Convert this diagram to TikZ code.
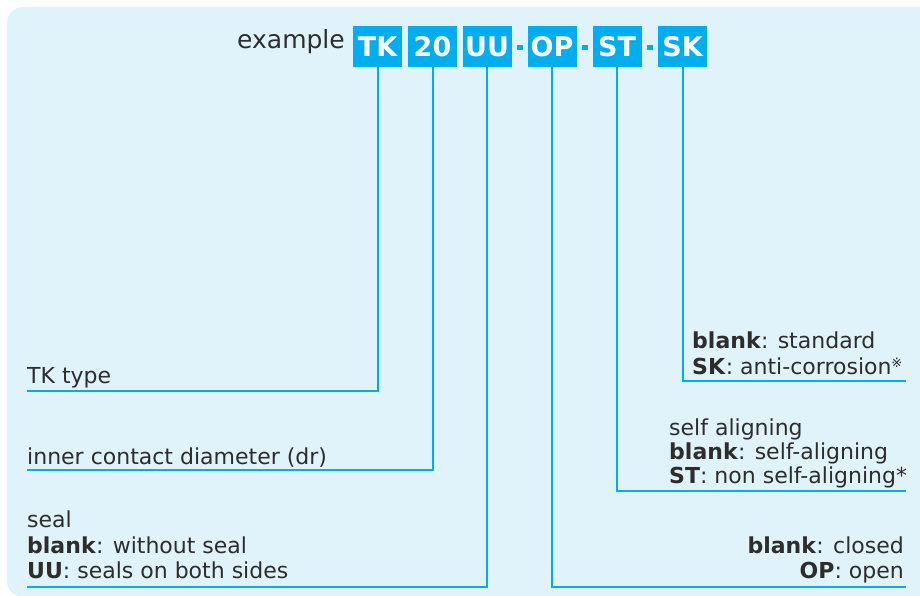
\documentclass[tikz,border=0pt]{standalone}
\usepackage{fontspec}
\setmainfont{DejaVu Sans}
\definecolor{bgblue}{RGB}{224,242,250}
\definecolor{codecyan}{RGB}{0,174,239}
\definecolor{txtgray}{RGB}{45,45,45}
\begin{document}
\begin{tikzpicture}[x=1pt,y=-1pt,
  codebox/.style={fill=codecyan, text=white, font=\fontsize{27}{27}\selectfont\bfseries,
    minimum width=49pt, minimum height=41pt, inner sep=0pt, text height=19.5pt, text depth=0pt},
  hyph/.style={fill=codecyan, minimum width=6pt, minimum height=5pt, inner sep=0pt},
  lbl/.style={anchor=base west, inner sep=0pt, text=txtgray, font=\fontsize{22}{26}\selectfont},
  lblr/.style={lbl, anchor=base east},
  conn/.style={draw=codecyan, line width=2pt}]
\useasboundingbox (0,0) rectangle (920,596);
\clip (0,0) rectangle (920,596);
\fill[bgblue, rounded corners=16pt] (7,7) rectangle (950,597);

% code boxes
\node[anchor=base east, inner sep=0pt, text=txtgray, font=\fontsize{25}{25}\selectfont] (ex) at (345,49) {example};
\node[codebox] (tk) at (377.5,46.5) {TK};
\node[codebox] (d20) at (432.5,46.5) {20};
\node[codebox] (uu) at (487,46.5) {UU};
\node[hyph] (h1) at (519.5,47.5) {};
\node[codebox] (op) at (552,46.5) {OP};
\node[hyph] (h2) at (584.5,47.5) {};
\node[codebox] (st) at (617,46.5) {ST};
\node[hyph] (h3) at (650,47.5) {};
\node[codebox] (sk) at (682.5,46.5) {SK};

% labels
\node[lbl] (tkl) at (27,383) {TK type};
\node[lbl] (drl) at (27,464) {inner contact diameter (dr)};
\node[lbl] (seal1) at (27,527) {seal};
\node[lbl] (seal2) at (27,553) {\textbf{blank}: without seal};
\node[lbl] (seal3) at (27,578) {\textbf{UU}: seals on both sides};
\node[lbl] (sk1) at (692,348) {\textbf{blank}: standard};
\node[lbl] (sk2) at (692,374) {\textbf{SK}: anti-corrosion{\fontsize{13}{13}\selectfont\raisebox{7pt}{※}}};
\node[lbl] (st1) at (669,435) {self aligning};
\node[lbl] (st2) at (669,459) {\textbf{blank}: self-aligning};
\node[lbl] (st3) at (669,483) {\textbf{ST}: non self-aligning*};
\node[lblr] (op1) at (904,553) {\textbf{blank}: closed};
\node[lblr] (op2) at (904,578) {\textbf{OP}: open};

% connector ends
\coordinate (tkend) at (27,391);
\coordinate (drend) at (27,470);
\coordinate (uuend) at (27,587);
\coordinate (opend) at (906,587);
\coordinate (stend) at (906,491);
\coordinate (skend) at (906,381);

\draw[conn] (tk.south) |- (tkend);
\draw[conn] (d20.south) |- (drend);
\draw[conn] (uu.south) |- (uuend);
\draw[conn] (op.south) |- (opend);
\draw[conn] (st.south) |- (stend);
\draw[conn] (sk.south) |- (skend);
\end{tikzpicture}
\end{document}
